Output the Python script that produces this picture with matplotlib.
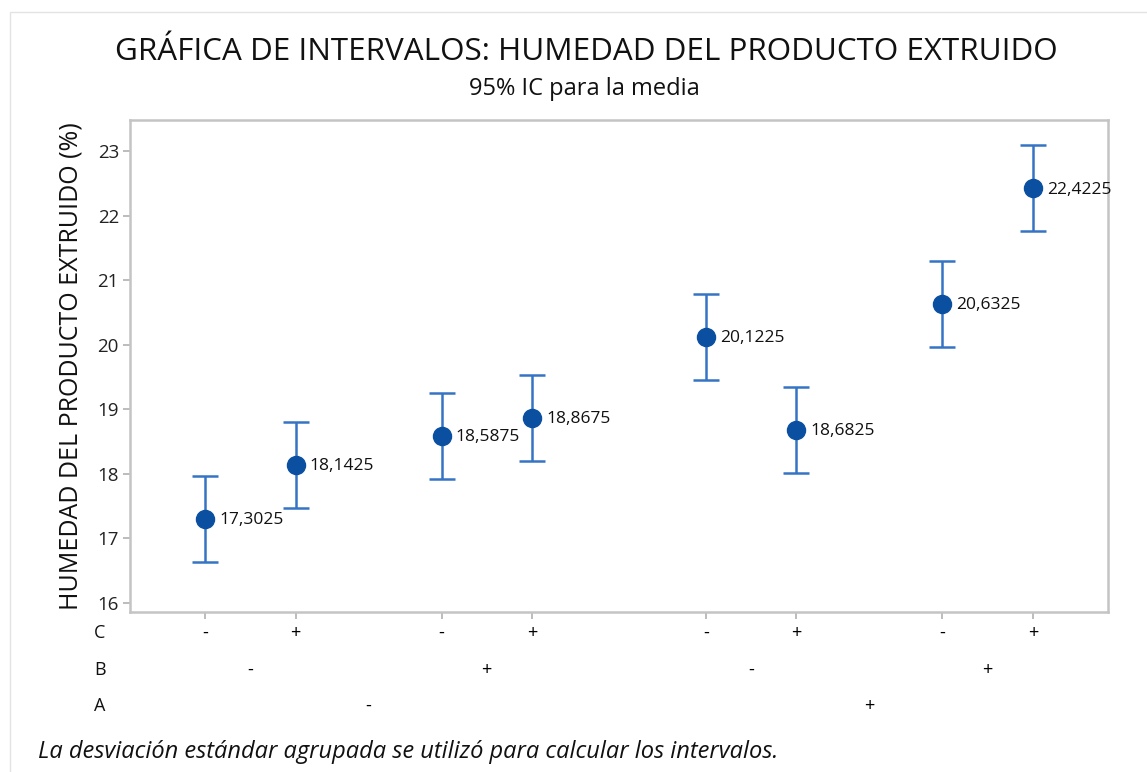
import matplotlib
matplotlib.use("Agg")
import matplotlib.pyplot as plt
from matplotlib.patches import Rectangle
import numpy as np

plt.rcParams['font.family'] = ['Open Sans', 'DejaVu Sans']

# Factor levels for each cell (A outer, B middle, C inner)
factor_a = ['-', '-', '-', '-', '+', '+', '+', '+']
factor_b = ['-', '-', '+', '+', '-', '-', '+', '+']
factor_c = ['-', '+', '-', '+', '-', '+', '-', '+']
means = [17.3025, 18.1425, 18.5875, 18.8675, 20.1225, 18.6825, 20.6325, 22.4225]
ci_half = [0.665, 0.665, 0.665, 0.665, 0.665, 0.665, 0.665, 0.665]
y_ticks = [16, 17, 18, 19, 20, 21, 22, 23]

# x positions with extra spacing between B groups and A groups
gap_b, gap_a = 0.61, 0.92
xpos = []
x = 0.0
for i in range(len(means)):
    if i > 0:
        x += 1.0
        if factor_a[i] != factor_a[i - 1]:
            x += gap_a
        elif factor_b[i] != factor_b[i - 1]:
            x += gap_b
    xpos.append(x)
xpos = np.array(xpos)

W, H = 1147, 772
fig = plt.figure(figsize=(W / 100, H / 100), dpi=100)
fig.patches.append(Rectangle((10 / W, -0.1), 1.2, 1 - 12 / H + 0.1,
                             transform=fig.transFigure, fill=False,
                             edgecolor='#e3e3e3', linewidth=1.0))

ax = fig.add_axes([130 / W, 1 - 612 / H, (1108 - 130) / W, (612 - 120) / H])

bar_color = '#3574c4'
dot_color = '#0a4fa0'
ax.errorbar(xpos, means, yerr=ci_half, fmt='none', ecolor=bar_color,
            elinewidth=1.8, capsize=9.7, capthick=1.8, zorder=2)
ax.plot(xpos, means, 'o', color=dot_color, markersize=13, zorder=3)

for xi, m in zip(xpos, means):
    ax.annotate(f"{m:.4f}".replace('.', ','), (xi, m), xytext=(10, -1),
                textcoords='offset points', ha='left', va='center',
                fontsize=12.5, color='#111111')

ax.set_xlim(-0.83, xpos[-1] + 0.83)
ax.set_ylim(15.86, 23.48)
ax.set_yticks(y_ticks)
ax.set_yticklabels([str(t) for t in y_ticks], fontsize=13.5, color='#222222')
ax.set_xticks(xpos)
ax.set_xticklabels([])
for s in ax.spines.values():
    s.set_color('#c4c4c4')
    s.set_linewidth(1.8)
ax.tick_params(axis='both', colors='#b0b0b0', length=5, width=1.2,
               labelcolor='#222222')
ax.tick_params(axis='y', pad=3)

ax.set_ylabel('HUMEDAD DEL PRODUCTO EXTRUIDO (%)', fontsize=18,
              color='#111111')
ax.yaxis.set_label_coords(-0.048, 0.5)

# Factor level rows under the axis
tr = ax.get_xaxis_transform()
row_y = {'C': -0.043, 'B': -0.118, 'A': -0.191}
fs_rows = 13
for name in ('C', 'B', 'A'):
    ax.text(-0.031, row_y[name], name, transform=ax.transAxes, ha='center',
            va='center', fontsize=fs_rows, color='#111111')
pairs_b = []
for i in range(0, 8, 2):
    pairs_b.append((xpos[i] + xpos[i + 1]) / 2)
    ax.text(xpos[i], row_y['C'], factor_c[i], transform=tr, ha='center',
            va='center', fontsize=fs_rows)
    ax.text(xpos[i + 1], row_y['C'], factor_c[i + 1], transform=tr,
            ha='center', va='center', fontsize=fs_rows)
for j in range(4):
    ax.text(pairs_b[j], row_y['B'], factor_b[2 * j], transform=tr,
            ha='center', va='center', fontsize=fs_rows)
for k in range(2):
    ax.text((pairs_b[2 * k] + pairs_b[2 * k + 1]) / 2, row_y['A'],
            factor_a[4 * k], transform=tr, ha='center', va='center',
            fontsize=fs_rows)

fig.text(586 / W, 1 - 52 / H,
         'GRÁFICA DE INTERVALOS: HUMEDAD DEL PRODUCTO EXTRUIDO',
         ha='center', va='center', fontsize=22.6, color='#111111')
fig.text(584 / W, 1 - 89 / H, '95% IC para la media', ha='center',
         va='center', fontsize=17, color='#111111')
fig.text(38 / W, 1 - 752 / H,
         'La desviación estándar agrupada se utilizó para calcular los intervalos.',
         ha='left', va='center', fontsize=17, style='italic', color='#111111')

fig.savefig('out.png', dpi=100)
